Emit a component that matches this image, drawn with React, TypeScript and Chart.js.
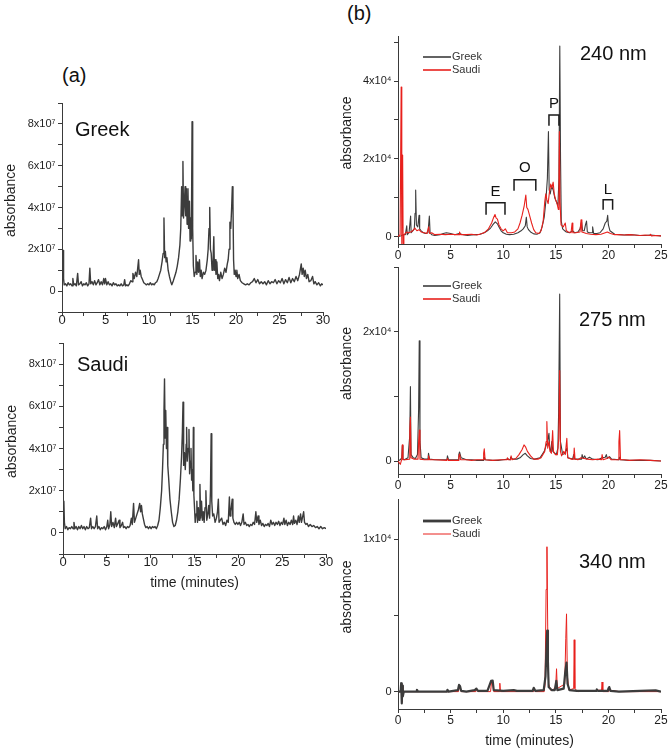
import React, { useEffect, useRef } from "react";
import { Chart, registerables } from "chart.js";

Chart.register(...registerables);

type Pt = [number, number];

const FONT = '"Liberation Sans", Arial, Helvetica, sans-serif';
const INK = "#1e1e1e";
const AXIS = "#3a3a3a";
const GREY = "#3c3c3c";
const RED = "#e8201c";

// ---------- tick labels ----------
const timeTicksA = [0, 5, 10, 15, 20, 25, 30];
const timeTicksB = [0, 5, 10, 15, 20, 25];
const absTicksA = [0, 2, 4, 6, 8]; // x10^7
const absTicks240 = [0, 2, 4]; // x10^4
const absTicks275 = [0, 2];
const absTicks340 = [0, 1];

// ---------- (a) total ion chromatograms, values x10^7 ----------
const greekTIC: Pt[] = [
  [0, 1.0], [0.12, 1.95], [0.18, 0.6], [0.25, 0.3], [0.4, 0.35], [0.55, 0.25], [0.7, 0.4], [0.85, 0.3], [1.0, 0.35], [1.15, 0.25],
  [1.25, 0.6], [1.35, 0.3], [1.5, 0.35], [1.65, 0.25], [1.8, 0.85], [1.9, 0.3], [2.05, 0.35], [2.2, 0.45], [2.35, 0.25], [2.5, 0.35],
  [2.65, 0.3], [2.8, 0.4], [2.95, 0.25], [3.1, 0.35], [3.2, 1.1], [3.3, 0.35], [3.45, 0.45], [3.6, 0.3], [3.75, 0.5], [3.9, 0.3],
  [4.05, 0.4], [4.2, 0.55], [4.35, 0.3], [4.5, 0.45], [4.65, 0.3], [4.8, 0.6], [4.9, 0.35], [5.0, 0.6], [5.15, 0.3], [5.3, 0.45],
  [5.45, 0.3], [5.6, 0.35], [5.75, 0.25], [5.9, 0.4], [6.05, 0.3], [6.2, 0.35], [6.35, 0.25], [6.5, 0.3], [6.65, 0.25], [6.8, 0.35],
  [6.95, 0.25], [7.1, 0.3], [7.2, 0.55], [7.3, 0.25], [7.45, 0.3], [7.6, 0.25], [7.75, 0.35], [7.9, 0.5], [8.05, 0.45], [8.15, 0.85],
  [8.3, 0.6], [8.45, 0.9], [8.6, 0.7], [8.8, 1.5], [8.88, 0.8], [8.98, 1.0], [9.1, 0.7], [9.25, 0.55], [9.4, 0.4], [9.55, 0.35],
  [9.7, 0.3], [9.85, 0.35], [10.0, 0.3], [10.15, 0.4], [10.3, 0.3], [10.45, 0.35], [10.6, 0.3], [10.75, 0.4], [10.9, 0.45], [11.05, 0.6],
  [11.2, 0.8], [11.35, 1.0], [11.5, 1.4], [11.62, 1.8], [11.72, 3.5], [11.8, 1.6], [11.88, 1.9], [11.97, 1.4], [12.06, 1.6], [12.2, 1.0],
  [12.35, 0.7], [12.5, 0.45], [12.62, 0.3], [12.8, 0.5], [12.95, 0.7], [13.1, 0.9], [13.25, 1.2], [13.4, 1.6], [13.55, 2.2], [13.65, 3.0],
  [13.75, 5.0], [13.82, 3.6], [13.9, 6.2], [13.97, 3.5], [14.06, 4.2], [14.15, 5.0], [14.22, 3.6], [14.3, 4.9], [14.38, 3.2], [14.48, 4.9],
  [14.55, 3.0], [14.65, 4.3], [14.72, 2.4], [14.8, 3.5], [14.87, 2.5], [14.95, 8.1], [15.02, 3.0], [15.1, 1.2], [15.2, 0.7], [15.3, 0.9],
  [15.4, 1.7], [15.5, 0.8], [15.6, 1.4], [15.7, 0.9], [15.8, 1.5], [15.9, 0.7], [16.0, 1.0], [16.1, 0.6], [16.25, 0.9], [16.4, 0.8],
  [16.55, 1.0], [16.7, 1.5], [16.8, 2.0], [16.9, 3.0], [16.98, 4.0], [17.06, 2.0], [17.15, 1.8], [17.25, 1.0], [17.35, 1.3], [17.45, 2.6],
  [17.52, 1.0], [17.6, 1.5], [17.7, 0.8], [17.8, 1.4], [17.9, 0.6], [18.0, 0.8], [18.1, 0.5], [18.25, 0.9], [18.4, 0.6], [18.55, 0.8],
  [18.7, 1.1], [18.85, 0.9], [19.0, 1.3], [19.1, 1.5], [19.2, 2.0], [19.3, 3.3], [19.4, 3.0], [19.5, 4.0], [19.58, 5.0], [19.65, 4.2],
  [19.72, 1.5], [19.8, 0.8], [19.9, 1.0], [20.0, 0.7], [20.1, 1.0], [20.2, 0.6], [20.35, 0.8], [20.5, 0.5], [20.7, 0.4], [20.9, 0.35],
  [21.1, 0.3], [21.3, 0.35], [21.5, 0.3], [21.7, 0.4], [21.9, 0.45], [22.1, 0.6], [22.3, 0.4], [22.5, 0.55], [22.7, 0.35], [22.9, 0.45],
  [23.1, 0.35], [23.3, 0.45], [23.5, 0.3], [23.7, 0.5], [23.9, 0.35], [24.1, 0.45], [24.3, 0.4], [24.5, 0.55], [24.7, 0.35], [24.9, 0.5],
  [25.1, 0.4], [25.3, 0.6], [25.5, 0.35], [25.7, 0.55], [25.9, 0.4], [26.1, 0.65], [26.3, 0.4], [26.5, 0.6], [26.7, 0.45], [26.9, 0.7],
  [27.1, 0.5], [27.3, 0.8], [27.5, 1.3], [27.6, 0.8], [27.72, 1.1], [27.85, 0.7], [27.95, 1.0], [28.1, 0.6], [28.25, 0.8], [28.4, 0.45],
  [28.6, 0.5], [28.8, 0.7], [28.95, 0.35], [29.1, 0.45], [29.3, 0.3], [29.5, 0.4], [29.7, 0.25], [29.85, 0.35], [30, 0.3],
];

const saudiTIC: Pt[] = [
  [0, 0.8], [0.1, 1.5], [0.16, 0.5], [0.25, 0.2], [0.4, 0.3], [0.55, 0.15], [0.7, 0.25], [0.85, 0.2], [1.0, 0.3], [1.15, 0.2],
  [1.25, 0.5], [1.35, 0.2], [1.5, 0.3], [1.65, 0.15], [1.8, 0.3], [1.95, 0.2], [2.1, 0.35], [2.25, 0.2], [2.4, 0.3], [2.55, 0.15],
  [2.7, 0.3], [2.85, 0.2], [3.0, 0.25], [3.15, 0.7], [3.25, 0.2], [3.4, 0.3], [3.55, 0.2], [3.7, 0.3], [3.85, 0.8], [3.95, 0.2],
  [4.1, 0.3], [4.25, 0.15], [4.4, 0.25], [4.55, 0.2], [4.7, 0.3], [4.85, 0.15], [5.0, 0.3], [5.1, 0.6], [5.2, 0.2], [5.35, 0.4],
  [5.45, 1.0], [5.55, 0.3], [5.7, 0.5], [5.85, 0.25], [6.0, 0.7], [6.1, 0.3], [6.25, 0.45], [6.4, 0.6], [6.5, 0.25], [6.65, 0.35],
  [6.8, 0.5], [6.9, 0.25], [7.05, 0.3], [7.2, 0.2], [7.35, 0.3], [7.5, 0.25], [7.65, 0.35], [7.8, 0.7], [7.9, 0.4], [8.05, 1.4],
  [8.15, 0.5], [8.3, 0.7], [8.45, 0.9], [8.6, 1.1], [8.75, 1.4], [8.85, 1.0], [8.95, 1.3], [9.05, 0.9], [9.15, 0.7], [9.3, 0.4],
  [9.45, 0.25], [9.6, 0.3], [9.75, 0.2], [9.9, 0.3], [10.05, 0.2], [10.2, 0.3], [10.35, 0.25], [10.5, 0.3], [10.65, 0.2], [10.8, 0.35],
  [10.95, 0.6], [11.1, 1.2], [11.25, 2.0], [11.35, 3.0], [11.45, 4.2], [11.52, 5.8], [11.58, 7.3], [11.65, 4.5], [11.72, 5.8], [11.8, 4.0],
  [11.88, 5.0], [11.95, 3.2], [12.05, 2.6], [12.2, 1.6], [12.35, 1.0], [12.5, 0.5], [12.65, 0.3], [12.8, 0.35], [12.95, 0.6], [13.1, 1.0],
  [13.25, 1.6], [13.4, 2.6], [13.52, 3.6], [13.62, 4.8], [13.69, 6.2], [13.76, 3.2], [13.85, 3.8], [13.95, 3.0], [14.05, 4.2], [14.1, 5.0],
  [14.17, 3.4], [14.27, 4.0], [14.37, 4.9], [14.44, 2.8], [14.52, 3.4], [14.6, 4.0], [14.67, 2.5], [14.75, 3.0], [14.81, 2.0], [14.87, 5.0],
  [14.93, 1.8], [15.0, 1.2], [15.08, 0.5], [15.18, 0.9], [15.27, 1.5], [15.34, 0.5], [15.44, 1.2], [15.52, 0.6], [15.62, 2.3], [15.7, 0.7],
  [15.8, 1.5], [15.9, 0.6], [16.0, 1.0], [16.1, 0.5], [16.2, 1.2], [16.3, 2.0], [16.4, 0.6], [16.52, 0.9], [16.62, 1.3], [16.72, 0.7],
  [16.82, 2.0], [16.9, 4.7], [16.97, 1.5], [17.07, 0.8], [17.2, 0.9], [17.35, 0.5], [17.5, 0.7], [17.62, 1.0], [17.72, 1.6], [17.8, 0.5],
  [17.95, 0.6], [18.1, 0.7], [18.25, 0.4], [18.4, 0.5], [18.55, 0.35], [18.7, 0.6], [18.85, 0.5], [18.98, 1.7], [19.06, 0.8], [19.15, 1.0],
  [19.3, 1.6], [19.38, 0.7], [19.5, 0.5], [19.65, 0.4], [19.8, 0.5], [19.95, 0.4], [20.1, 0.5], [20.25, 0.35], [20.4, 0.5], [20.55, 0.9],
  [20.65, 0.4], [20.8, 0.5], [20.95, 0.35], [21.1, 0.4], [21.25, 0.3], [21.4, 0.4], [21.55, 0.35], [21.7, 0.5], [21.85, 0.4], [22.0, 1.0],
  [22.1, 0.5], [22.25, 0.8], [22.35, 0.4], [22.5, 0.6], [22.65, 0.35], [22.8, 0.45], [22.95, 0.3], [23.1, 0.4], [23.25, 0.35], [23.4, 0.45],
  [23.55, 0.3], [23.7, 0.6], [23.85, 0.4], [24.0, 0.5], [24.15, 0.35], [24.3, 0.5], [24.45, 0.4], [24.6, 0.55], [24.75, 0.35], [24.9, 0.5],
  [25.05, 0.4], [25.2, 0.7], [25.3, 0.4], [25.45, 0.6], [25.6, 0.35], [25.75, 0.5], [25.9, 0.4], [26.05, 0.6], [26.2, 0.4], [26.3, 0.8],
  [26.4, 0.45], [26.55, 0.6], [26.7, 0.4], [26.85, 0.8], [26.95, 0.5], [27.1, 0.9], [27.2, 0.5], [27.35, 0.8], [27.45, 1.0], [27.55, 0.5],
  [27.7, 0.4], [27.85, 0.45], [28.0, 0.3], [28.2, 0.4], [28.4, 0.3], [28.6, 0.35], [28.8, 0.25], [29.0, 0.3], [29.2, 0.2], [29.4, 0.3],
  [29.6, 0.2], [29.8, 0.25], [30, 0.2],
];

// ---------- (b) UV chromatograms, values x10^4 ----------
const greek240: Pt[] = [
  [0, 0], [0.3, 0.02], [0.5, 0.05], [0.7, 0.05], [0.83, 0.28], [0.88, 0.05], [1.05, 0.1], [1.2, 0.53], [1.25, 0.1], [1.4, 0.15],
  [1.55, 0.2], [1.62, 0.6], [1.68, 1.2], [1.75, 0.3], [1.88, 0.25], [2.0, 0.55], [2.06, 0.2], [2.2, 0.15], [2.4, 0.1], [2.6, 0.08],
  [2.85, 0.1], [2.98, 0.53], [3.05, 0.1], [3.2, 0.05], [3.5, 0.03], [4.0, 0.05], [4.3, 0.08], [4.6, 0.1], [5.0, 0.08], [5.4, 0.05],
  [5.8, 0.08], [6.2, 0.05], [6.6, 0.03], [7.0, 0.04], [7.4, 0.05], [7.8, 0.06], [8.2, 0.1], [8.5, 0.15], [8.8, 0.22], [9.0, 0.3],
  [9.25, 0.38], [9.45, 0.33], [9.6, 0.25], [9.8, 0.15], [10.0, 0.1], [10.3, 0.06], [10.6, 0.05], [11.0, 0.06], [11.4, 0.1], [11.7, 0.15],
  [11.9, 0.2], [12.1, 0.28], [12.2, 0.5], [12.28, 0.25], [12.4, 0.18], [12.6, 0.12], [12.9, 0.07], [13.2, 0.06], [13.5, 0.1], [13.7, 0.25],
  [13.9, 0.5], [14.05, 0.9], [14.2, 1.5], [14.3, 2.7], [14.37, 1.2], [14.47, 1.1], [14.6, 1.3], [14.75, 1.2], [14.9, 1.0], [15.05, 0.9],
  [15.2, 0.8], [15.3, 1.5], [15.38, 4.9], [15.45, 2.0], [15.52, 0.4], [15.65, 0.2], [15.85, 0.15], [16.0, 0.12], [16.3, 0.1], [16.6, 0.15],
  [16.8, 0.1], [17.1, 0.12], [17.3, 0.2], [17.45, 0.38], [17.55, 0.15], [17.7, 0.15], [17.82, 0.3], [17.92, 0.4], [18.0, 0.12], [18.2, 0.1],
  [18.45, 0.1], [18.5, 0.25], [18.6, 0.08], [18.9, 0.08], [19.2, 0.1], [19.5, 0.2], [19.7, 0.35], [19.85, 0.4], [19.93, 0.55], [20.0, 0.3],
  [20.15, 0.15], [20.4, 0.1], [20.6, 0.06], [21, 0.05], [21.5, 0.04], [22, 0.05], [22.5, 0.04], [23, 0.03], [23.5, 0.03], [24, 0.04],
  [24.5, 0.03], [25, 0.02],
];

const saudi240: Pt[] = [
  [0, 0], [0.2, 0.05], [0.3, 3.85], [0.36, -0.18], [0.44, 2.1], [0.49, -0.18], [0.56, 0.05], [0.7, 0.08], [0.85, 0.12], [1.0, 0.1],
  [1.2, 0.12], [1.4, 0.15], [1.6, 0.22], [1.8, 0.15], [2.0, 0.18], [2.2, 0.12], [2.5, 0.1], [2.75, 0.08], [2.92, 0.25], [3.0, 0.08],
  [3.2, 0.1], [3.5, 0.05], [4.0, 0.06], [4.5, 0.05], [5.0, 0.06], [5.5, 0.05], [5.8, 0.05], [5.85, 0.12], [5.95, 0.05], [6.5, 0.05],
  [7.0, 0.06], [7.5, 0.04], [8.0, 0.08], [8.3, 0.12], [8.6, 0.2], [8.9, 0.35], [9.1, 0.5], [9.22, 0.57], [9.32, 0.48], [9.45, 0.45],
  [9.6, 0.3], [9.8, 0.2], [10.0, 0.15], [10.2, 0.2], [10.4, 0.1], [10.8, 0.1], [11.1, 0.12], [11.4, 0.2], [11.6, 0.35], [11.8, 0.55],
  [12.0, 0.8], [12.15, 1.07], [12.24, 0.75], [12.35, 0.7], [12.5, 0.55], [12.7, 0.35], [12.9, 0.18], [13.1, 0.1], [13.4, 0.08], [13.6, 0.15],
  [13.8, 0.4], [13.95, 0.9], [14.05, 1.1], [14.15, 0.95], [14.27, 0.85], [14.42, 1.2], [14.52, 1.35], [14.62, 1.25], [14.75, 1.4], [14.85, 1.1],
  [14.98, 0.95], [15.12, 0.85], [15.24, 0.7], [15.3, 1.5], [15.34, 2.7], [15.4, 0.9], [15.5, 0.3], [15.7, 0.25], [15.9, 0.35], [16.0, 0.15],
  [16.2, 0.12], [16.45, 0.1], [16.55, 0.35], [16.62, 0.1], [16.9, 0.1], [17.3, 0.12], [17.4, 0.43], [17.48, 0.12], [17.7, 0.1], [17.9, 0.08],
  [18.3, 0.06], [18.8, 0.05], [19.3, 0.06], [19.7, 0.1], [19.9, 0.12], [20.2, 0.08], [20.6, 0.05], [21, 0.05], [21.5, 0.04], [22, 0.05],
  [22.5, 0.04], [23, 0.03], [23.5, 0.04], [23.95, 0.03], [24.0, 0.06], [24.1, 0.02], [24.5, 0.03], [25, 0.02],
];

const greek275: Pt[] = [
  [0, 0], [0.2, 0.02], [0.36, 0.05], [0.41, 0.24], [0.47, 0.03], [0.6, 0.02], [0.95, 0.05], [1.12, 0.4], [1.18, 1.15], [1.24, 0.1],
  [1.45, 0.05], [1.65, 0.04], [1.85, 0.1], [1.96, 0.8], [2.02, 1.86], [2.09, 0.3], [2.2, 0.05], [2.5, 0.03], [2.85, 0.03], [2.9, 0.12],
  [3.0, 0.03], [3.5, 0.02], [4.0, 0.02], [4.65, 0.02], [4.7, 0.08], [4.8, 0.02], [5.3, 0.02], [5.72, 0.02], [5.78, 0.1], [5.85, 0.14],
  [6.0, 0.05], [6.5, 0.02], [7.0, 0.02], [7.5, 0.01], [8.15, 0.01], [8.2, 0.06], [8.3, 0.02], [9, 0.01], [9.5, 0.01], [10, 0.02],
  [10.5, 0.03], [10.65, 0.02], [10.7, 0.06], [10.9, 0.03], [11.3, 0.03], [11.6, 0.05], [11.9, 0.1], [12.1, 0.12], [12.3, 0.08], [12.6, 0.04],
  [13, 0.03], [13.5, 0.05], [13.9, 0.15], [14.1, 0.25], [14.22, 0.3], [14.35, 0.43], [14.42, 0.2], [14.52, 0.15], [14.62, 0.3], [14.72, 0.15],
  [14.9, 0.12], [15.05, 0.1], [15.2, 0.2], [15.27, 0.76], [15.37, 2.58], [15.44, 0.3], [15.5, 0.25], [15.65, 0.1], [15.85, 0.12], [16.05, 0.2],
  [16.15, 0.05], [16.6, 0.03], [16.7, 0.1], [16.8, 0.03], [17.2, 0.03], [17.45, 0.03], [17.5, 0.1], [17.6, 0.04], [17.75, 0.08], [17.9, 0.03],
  [18.2, 0.06], [18.5, 0.03], [19.0, 0.02], [19.4, 0.05], [19.7, 0.06], [19.8, 0.1], [19.9, 0.04], [20.1, 0.07], [20.3, 0.03], [21.0, 0.02],
  [21.05, 0.06], [21.15, 0.02], [22, 0.01], [23, 0.01], [24, 0.01], [25, 0],
];

const saudi275: Pt[] = [
  [0, 0], [0.22, -0.05], [0.36, 0.03], [0.41, 0.25], [0.47, 0.02], [0.7, 0.02], [1.08, 0.03], [1.12, 0.48], [1.18, 0.68], [1.24, 0.05],
  [1.5, 0.03], [1.9, 0.03], [1.96, 0.3], [2.03, 0.48], [2.09, 0.03], [2.5, 0.02], [2.86, 0.02], [2.9, 0.08], [3.0, 0.02], [3.5, 0.02],
  [4.65, 0.01], [4.7, 0.04], [4.8, 0.01], [5.72, 0.01], [5.78, 0.06], [5.85, 0.11], [5.95, 0.02], [6.5, 0.02], [7.0, 0.01], [7.5, 0.02],
  [8.1, 0.02], [8.14, 0.12], [8.2, 0.19], [8.28, 0.02], [9, 0.01], [9.8, 0.02], [10.35, 0.02], [10.4, 0.05], [10.5, 0.02], [10.7, 0.02],
  [10.75, 0.08], [10.85, 0.02], [11.2, 0.04], [11.5, 0.1], [11.8, 0.18], [11.98, 0.25], [12.12, 0.22], [12.3, 0.15], [12.6, 0.08], [12.9, 0.03],
  [13.3, 0.03], [13.6, 0.05], [13.95, 0.15], [14.08, 0.3], [14.15, 0.61], [14.23, 0.2], [14.35, 0.3], [14.45, 0.15], [14.58, 0.12], [14.7, 0.47],
  [14.78, 0.15], [14.95, 0.1], [15.15, 0.1], [15.28, 0.35], [15.37, 1.4], [15.44, 0.15], [15.55, 0.08], [15.75, 0.15], [15.9, 0.1], [16.05, 0.35],
  [16.13, 0.05], [16.5, 0.03], [16.7, 0.03], [16.75, 0.2], [16.83, 0.03], [17.1, 0.02], [17.4, 0.05], [17.7, 0.04], [18.0, 0.03], [18.5, 0.02],
  [19.0, 0.03], [19.35, 0.02], [19.4, 0.1], [19.5, 0.02], [19.85, 0.04], [20.05, 0.06], [20.25, 0.02], [20.95, 0.02], [21.0, 0.3], [21.07, 0.47],
  [21.15, 0.02], [21.5, 0.02], [22, 0.01], [23, 0.02], [24, 0.01], [25, 0],
];

const greek340: Pt[] = [
  [0, 0], [0.25, 0], [0.3, 0.055], [0.36, -0.077], [0.41, 0.04], [0.46, -0.03], [0.55, 0], [1.0, 0], [1.75, 0], [1.8, 0.012],
  [1.9, 0], [3, 0], [4.65, 0], [4.7, 0.012], [4.8, 0], [5.7, 0.01], [5.8, 0.044], [5.9, 0.035], [6.0, 0.005], [6.5, 0],
  [7.3, 0.01], [7.45, 0.02], [7.6, 0.005], [8.5, 0.005], [8.85, 0.07], [9.0, 0.072], [9.1, 0.01], [10, 0.005], [11, 0.01], [11.3, 0.005],
  [12.8, 0.005], [12.9, 0.025], [13.05, 0.005], [13.85, 0.01], [14.02, 0.1], [14.1, 0.26], [14.18, 0.4], [14.25, 0.2], [14.32, 0.03], [14.6, 0.01],
  [14.9, 0.01], [14.95, 0.03], [15.05, 0.07], [15.15, 0.01], [15.75, 0.02], [15.9, 0.13], [16.02, 0.19], [16.12, 0.05], [16.3, 0.01], [17, 0.005],
  [18.85, 0.005], [18.9, 0.015], [19.0, 0.005], [19.95, 0.005], [20.0, 0.02], [20.08, 0.03], [20.2, 0.005], [21, 0], [23, 0.005], [24.5, 0.008],
  [25, 0],
];

const saudi340: Pt[] = [
  [0, 0], [0.25, 0], [0.3, 0.05], [0.36, -0.07], [0.41, 0.035], [0.46, -0.025], [0.55, 0], [2, 0], [4, 0], [5.75, 0],
  [5.8, 0.03], [5.9, 0.02], [6, 0], [7.4, 0], [7.45, 0.015], [7.6, 0], [8.8, 0], [8.9, 0.07], [9.0, 0.06], [9.1, 0],
  [9.63, 0], [9.68, 0.055], [9.74, 0], [12, 0], [12.85, 0], [12.9, 0.015], [13.05, 0], [13.9, 0], [13.98, 0.05], [14.08, 0.67],
  [14.16, 0.95], [14.23, 0.43], [14.32, 0.05], [14.5, 0.01], [14.98, 0.02], [15.07, 0.15], [15.14, 0.02], [15.85, 0.05], [15.95, 0.35], [16.02, 0.51],
  [16.1, 0.1], [16.25, 0.01], [16.7, 0.02], [16.75, 0.34], [16.81, 0.02], [17.1, 0], [19.35, 0.01], [19.4, 0.063], [19.47, 0], [20.0, 0],
  [20.04, 0.03], [20.14, 0.01], [21, 0], [25, 0],
];

// ---------- panel description ----------
type Series = { data: Pt[]; color: string; width: number; order: number; label: string; legendWidth: number };
type Bracket = { text: string; x0: number; x1: number; top: number; leg: number; ty: number };
type Spec = {
  div: { left: number; top: number; width: number; height: number };
  area: { l: number; t: number; r: number; b: number };
  xMax: number;
  xLabels: number[];
  xFont: number;
  xPad: number;
  xTitle?: string;
  yMin: number;
  yMax: number;
  yStep: number;
  yLabels: number[];
  yExp: string;
  series: Series[];
  name: string;
  nameDx: number;
  nameDy: number;
  legendDy?: [number, number];
  brackets?: Bracket[];
};

const brackets240: Bracket[] = [
  { text: "E", x0: 8.37, x1: 10.17, top: 0.87, leg: 0.56, ty: 1.15 },
  { text: "O", x0: 11.03, x1: 13.1, top: 1.46, leg: 1.18, ty: 1.77 },
  { text: "P", x0: 14.35, x1: 15.3, top: 3.13, leg: 2.85, ty: 3.42 },
  { text: "L", x0: 19.5, x1: 20.4, top: 0.95, leg: 0.69, ty: 1.2 },
];

const specs: Spec[] = [
  {
    div: { left: 0, top: 90, width: 340, height: 250 },
    area: { l: 62, t: 103, r: 323, b: 312 },
    xMax: 30, xLabels: timeTicksA, xFont: 13, xPad: -2.5,
    yMin: -1, yMax: 9, yStep: 1, yLabels: absTicksA, yExp: "⁷",
    series: [{ data: greekTIC, color: GREY, width: 1.4, order: 0, label: "Greek", legendWidth: 1.5 }],
    name: "Greek", nameDx: 13, nameDy: 27,
  },
  {
    div: { left: 0, top: 330, width: 340, height: 265 },
    area: { l: 63, t: 343, r: 326, b: 554 },
    xMax: 30, xLabels: timeTicksA, xFont: 13, xPad: -2, xTitle: "time (minutes)",
    yMin: -1, yMax: 9, yStep: 1, yLabels: absTicksA, yExp: "⁷",
    series: [{ data: saudiTIC, color: GREY, width: 1.4, order: 0, label: "Saudi", legendWidth: 1.5 }],
    name: "Saudi", nameDx: 14, nameDy: 22,
  },
  {
    div: { left: 334, top: 24, width: 336, height: 240 },
    area: { l: 398, t: 36, r: 661, b: 244 },
    xMax: 25, xLabels: timeTicksB, xFont: 12, xPad: 2,
    yMin: -0.19, yMax: 5.16, yStep: 1, yLabels: absTicks240, yExp: "⁴",
    series: [
      { data: greek240, color: GREY, width: 1.1, order: 1, label: "Greek", legendWidth: 1.6 },
      { data: saudi240, color: RED, width: 1.1, order: 0, label: "Saudi", legendWidth: 1.6 },
    ],
    name: "240 nm", nameDx: 182, nameDy: 18,
    legendDy: [21, 34],
    brackets: brackets240,
  },
  {
    div: { left: 334, top: 255, width: 336, height: 240 },
    area: { l: 398, t: 267, r: 661, b: 474 },
    xMax: 25, xLabels: timeTicksB, xFont: 12, xPad: 2,
    yMin: -0.2, yMax: 3.0, yStep: 1, yLabels: absTicks275, yExp: "⁴",
    series: [
      { data: greek275, color: GREY, width: 1.1, order: 1, label: "Greek", legendWidth: 1.6 },
      { data: saudi275, color: RED, width: 1.1, order: 0, label: "Saudi", legendWidth: 1.6 },
    ],
    name: "275 nm", nameDx: 181, nameDy: 53,
    legendDy: [19, 32],
  },
  {
    div: { left: 334, top: 487, width: 336, height: 266 },
    area: { l: 398, t: 499, r: 661, b: 709 },
    xMax: 25, xLabels: timeTicksB, xFont: 12, xPad: 1.5, xTitle: "time (minutes)",
    yMin: -0.114, yMax: 1.263, yStep: 0.5, yLabels: absTicks340, yExp: "⁴",
    series: [
      { data: greek340, color: GREY, width: 2.2, order: 0, label: "Greek", legendWidth: 2.8 },
      { data: saudi340, color: RED, width: 1, order: 1, label: "Saudi", legendWidth: 1 },
    ],
    name: "340 nm", nameDx: 181, nameDy: 63,
    legendDy: [22, 35],
  },
];

function buildChart(canvas: HTMLCanvasElement, s: Spec): Chart {
  const xAxisH = s.div.top + s.div.height - s.area.b;
  const yAxisW = s.area.l - s.div.left;
  const annot = {
    id: "panelAnnotations",
    afterDraw(chart: any) {
      const { ctx, chartArea: a, scales } = chart;
      const xs = scales.x;
      const ys = scales.y;
      // y-axis title
      ctx.save();
      ctx.fillStyle = INK;
      ctx.font = `14px ${FONT}`;
      ctx.textAlign = "center";
      ctx.textBaseline = "middle";
      ctx.translate(a.left - 51, (a.top + a.bottom) / 2 - 7);
      ctx.rotate(-Math.PI / 2);
      ctx.fillText("absorbance", 0, 0);
      ctx.restore();
      // panel name
      ctx.save();
      ctx.fillStyle = "#111";
      ctx.font = `20px ${FONT}`;
      ctx.textAlign = "left";
      ctx.textBaseline = "middle";
      ctx.fillText(s.name, a.left + s.nameDx, a.top + s.nameDy);
      ctx.restore();
      // legend
      if (s.legendDy) {
        ctx.save();
        ctx.font = `11px ${FONT}`;
        ctx.textAlign = "left";
        ctx.textBaseline = "middle";
        s.series.forEach((ser, i) => {
          const y = a.top + s.legendDy![i];
          ctx.strokeStyle = ser.color;
          ctx.lineWidth = ser.legendWidth;
          ctx.beginPath();
          ctx.moveTo(a.left + 25, y);
          ctx.lineTo(a.left + 53, y);
          ctx.stroke();
          ctx.fillStyle = "#333";
          ctx.fillText(ser.label, a.left + 54, y);
        });
        ctx.restore();
      }
      // brackets
      if (s.brackets) {
        ctx.save();
        ctx.strokeStyle = "#1a1a1a";
        ctx.lineWidth = 1.5;
        ctx.fillStyle = "#111";
        ctx.font = `15px ${FONT}`;
        ctx.textAlign = "center";
        ctx.textBaseline = "middle";
        s.brackets.forEach((br) => {
          const x0 = xs.getPixelForValue(br.x0);
          const x1 = xs.getPixelForValue(br.x1);
          const yt = ys.getPixelForValue(br.top);
          const yl = ys.getPixelForValue(br.leg);
          ctx.beginPath();
          ctx.moveTo(x0, yl);
          ctx.lineTo(x0, yt);
          ctx.lineTo(x1, yt);
          ctx.lineTo(x1, yl);
          ctx.stroke();
          ctx.fillText(br.text, (x0 + x1) / 2, ys.getPixelForValue(br.ty));
        });
        ctx.restore();
      }
    },
  };

  const cfg: any = {
    type: "line",
    data: {
      datasets: s.series.map((ser) => ({
        label: ser.label,
        data: ser.data.map(([x, y]) => ({ x, y })),
        borderColor: ser.color,
        borderWidth: ser.width,
        pointRadius: 0,
        fill: false,
        tension: 0,
        borderJoinStyle: "round",
        order: ser.order,
      })),
    },
    options: {
      animation: false,
      responsive: false,
      maintainAspectRatio: false,
      devicePixelRatio: 1,
      events: [],
      layout: {
        padding: {
          left: 0,
          top: s.area.t - s.div.top,
          right: s.div.left + s.div.width - s.area.r,
          bottom: 0,
        },
      },
      plugins: { legend: { display: false }, tooltip: { enabled: false } },
      scales: {
        x: {
          type: "linear",
          min: 0,
          max: s.xMax,
          afterFit: (sc: any) => {
            sc.height = xAxisH;
          },
          ticks: {
            stepSize: 2.5,
            autoSkip: false,
            maxRotation: 0,
            includeBounds: false,
            padding: s.xPad,
            color: INK,
            font: { family: FONT, size: s.xFont, lineHeight: 1 },
            callback: (v: number) => (s.xLabels.includes(v) ? String(v) : ""),
          },
          grid: { drawOnChartArea: false, drawTicks: true, tickLength: 4, color: AXIS },
          border: { display: true, color: AXIS, width: 1 },
          title: {
            display: !!s.xTitle,
            text: s.xTitle || "",
            color: INK,
            font: { family: FONT, size: 14 },
            padding: { top: 0, bottom: 3.5 },
          },
        },
        y: {
          type: "linear",
          min: s.yMin,
          max: s.yMax,
          afterFit: (sc: any) => {
            sc.width = yAxisW;
          },
          ticks: {
            stepSize: s.yStep,
            autoSkip: false,
            includeBounds: false,
            padding: 2.5,
            color: INK,
            font: { family: FONT, size: 11 },
            callback: (v: number) =>
              s.yLabels.includes(v) ? (v === 0 ? "0" : `${v}x10${s.yExp}`) : "",
          },
          grid: { drawOnChartArea: false, drawTicks: true, tickLength: 4, color: AXIS },
          border: { display: true, color: AXIS, width: 1 },
          title: { display: false },
        },
      },
    },
    plugins: [annot],
  };
  return new Chart(canvas, cfg);
}

function Panel({ spec }: { spec: Spec }) {
  const ref = useRef<HTMLCanvasElement | null>(null);
  useEffect(() => {
    if (!ref.current) return;
    const chart = buildChart(ref.current, spec);
    return () => chart.destroy();
  }, [spec]);
  const { left, top, width, height } = spec.div;
  return (
    <canvas
      ref={ref}
      width={width}
      height={height}
      style={{ position: "absolute", left, top, width, height }}
    />
  );
}

export default function App() {
  return (
    <div
      style={{
        position: "fixed",
        left: 0,
        top: 0,
        width: 670,
        height: 753,
        background: "#ffffff",
        overflow: "hidden",
        fontFamily: FONT,
      }}
    >
      <div style={{ position: "absolute", left: 62, top: 63, fontSize: 20, lineHeight: "24px", color: "#111" }}>(a)</div>
      <div style={{ position: "absolute", left: 347, top: 1, fontSize: 20, lineHeight: "24px", color: "#111" }}>(b)</div>
      {specs.map((sp, i) => (
        <Panel key={i} spec={sp} />
      ))}
    </div>
  );
}
